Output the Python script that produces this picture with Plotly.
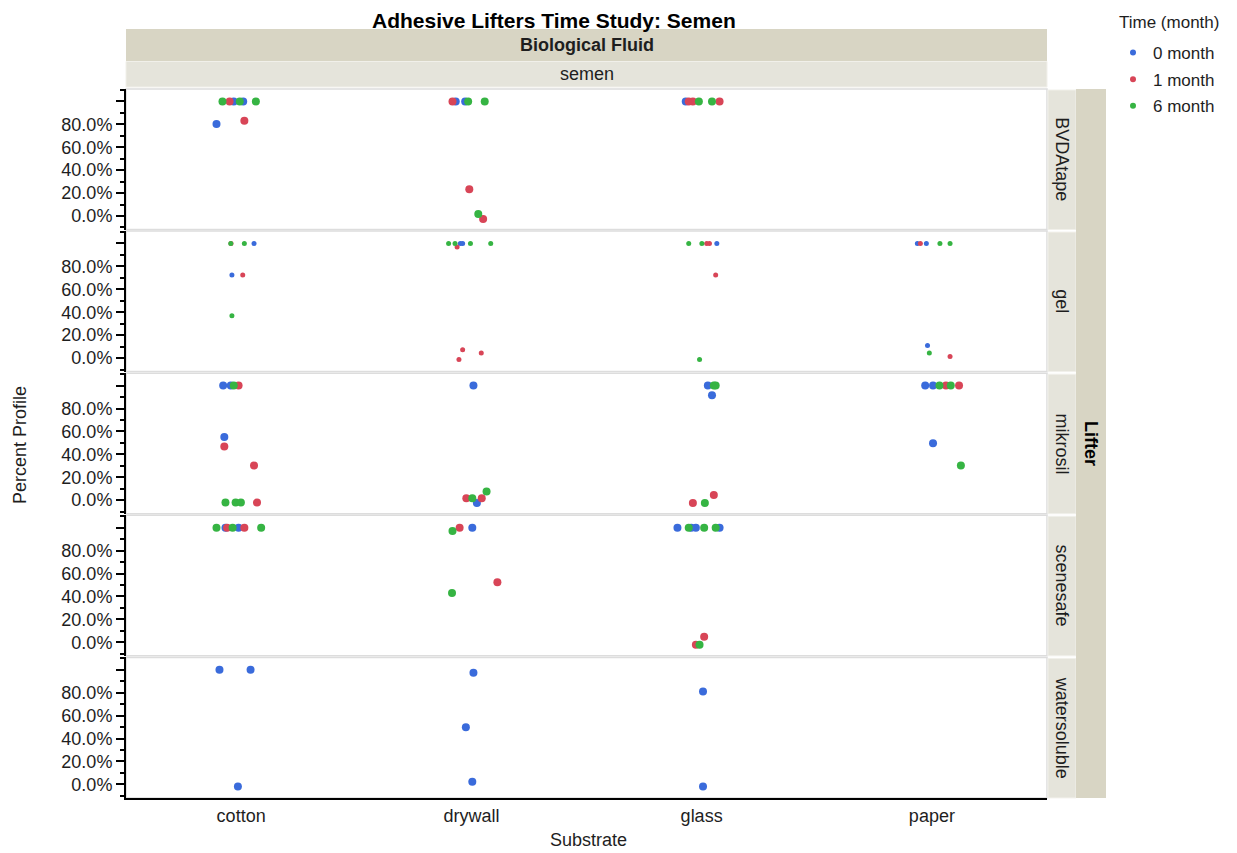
import plotly.graph_objects as go

# The page places the figure 8px in from the top-left corner, so the figure is
# sized 8px smaller and all reference pixel positions are shifted by 8px.
PAGE_W, PAGE_H = 1237, 853
OFF = 8
W, H = PAGE_W - OFF, PAGE_H - OFF

# ---------------- data ----------------
lifters = ["BVDAtape", "gel", "mikrosil", "scenesafe", "watersoluble"]
substrates = ["cotton", "drywall", "glass", "paper"]
months = [0, 1, 6]
month_labels = ["0 month", "1 month", "6 month"]
month_colors = ["#3A6BDB", "#D84557", "#36B443"]
y_tick_vals = [0, 0.2, 0.4, 0.6, 0.8, 1.0]
y_tick_text = ["0.0%", "20.0%", "40.0%", "60.0%", "80.0%", ""]

point_lifter = (["BVDAtape"] * 22 + ["gel"] * 32 + ["mikrosil"] * 32
                + ["scenesafe"] * 22 + ["watersoluble"] * 8)

point_substrate = (
    # BVDAtape
    ["cotton"] * 8 + ["drywall"] * 8 + ["glass"] * 6
    # gel
    + ["cotton"] * 7 + ["drywall"] * 10 + ["glass"] * 7 + ["paper"] * 8
    # mikrosil
    + ["cotton"] * 11 + ["drywall"] * 6 + ["glass"] * 7 + ["paper"] * 8
    # scenesafe
    + ["cotton"] * 7 + ["drywall"] * 5 + ["glass"] * 10
    # watersoluble
    + ["cotton"] * 3 + ["drywall"] * 3 + ["glass"] * 2
)

point_month = [
    # BVDAtape
    6, 1, 0, 6, 0, 6, 0, 1,
    1, 0, 0, 6, 6, 1, 6, 1,
    0, 1, 1, 6, 6, 1,
    # gel
    6, 1, 6, 0, 0, 1, 6,
    6, 6, 0, 0, 6, 6, 1, 1, 1, 1,
    6, 6, 1, 1, 0, 1, 6,
    0, 1, 0, 6, 6, 0, 6, 1,
    # mikrosil
    0, 0, 6, 1, 0, 1, 1, 6, 6, 6, 1,
    0, 1, 6, 1, 0, 6,
    0, 6, 6, 0, 1, 6, 1,
    0, 0, 6, 1, 6, 1, 0, 6,
    # scenesafe
    6, 0, 1, 6, 0, 1, 6,
    1, 0, 6, 1, 6,
    0, 6, 0, 0, 6, 6, 0, 1, 1, 6,
    # watersoluble
    0, 0, 0,
    0, 0, 0,
    0, 0,
]

point_jitter = [
    # BVDAtape
    -0.081, -0.050, -0.032, -0.006, 0.009, 0.064, -0.107, 0.014,
    -0.082, -0.068, -0.027, -0.014, 0.058, -0.009, 0.030, 0.051,
    -0.069, -0.056, -0.038, -0.012, 0.045, 0.078,
    # gel
    -0.045, -0.044, 0.014, 0.056, -0.040, 0.007, -0.040,
    -0.099, -0.071, -0.048, -0.038, -0.004, 0.084, -0.062, -0.038, 0.043, -0.054,
    -0.056, 0.001, 0.022, 0.034, 0.066, 0.061, -0.009,
    -0.063, -0.050, -0.024, 0.035, 0.079, -0.019, -0.011, 0.079,
    # mikrosil
    -0.078, -0.045, -0.032, -0.011, -0.073, -0.073, 0.056, -0.068, -0.024, -0.001, 0.069,
    0.009, -0.022, 0.004, 0.045, 0.024, 0.066,
    0.027, 0.053, 0.061, 0.045, -0.038, 0.014, 0.053,
    -0.029, 0.005, 0.033, 0.061, 0.082, 0.118, 0.005, 0.126,
    # scenesafe
    -0.107, -0.068, -0.061, -0.037, -0.011, 0.014, 0.087,
    -0.051, 0.004, -0.082, 0.113, -0.084,
    -0.105, -0.056, -0.045, -0.025, 0.011, 0.061, 0.078, 0.011, -0.025, -0.009,
    # watersoluble
    -0.094, 0.041, -0.014,
    0.009, -0.024, 0.004,
    0.006, 0.006,
]

point_percent = [
    # BVDAtape
    1.0, 1.0, 1.0, 1.0, 1.0, 1.0, 0.803, 0.832,
    1.0, 1.0, 1.0, 1.0, 1.0, 0.233, 0.017, -0.026,
    1.0, 1.0, 1.0, 1.0, 1.0, 1.0,
    # gel
    1.0, 1.0, 1.0, 1.0, 0.724, 0.724, 0.369,
    1.0, 1.0, 1.0, 1.0, 1.0, 1.0, 0.969, 0.072, 0.044, -0.012,
    1.0, 1.0, 1.0, 1.0, 1.0, 0.724, -0.012,
    1.0, 1.0, 1.0, 1.0, 1.0, 0.110, 0.044, 0.014,
    # mikrosil
    1.0, 1.0, 1.0, 1.0, 0.552, 0.468, 0.302, -0.021, -0.021, -0.021, -0.021,
    1.0, 0.017, 0.017, 0.017, -0.024, 0.075,
    1.0, 1.0, 1.0, 0.915, -0.024, -0.024, 0.046,
    1.0, 1.0, 1.0, 1.0, 1.0, 1.0, 0.497, 0.302,
    # scenesafe
    1.0, 1.0, 1.0, 1.0, 1.0, 1.0, 1.0,
    1.0, 1.0, 0.970, 0.523, 0.429,
    1.0, 1.0, 1.0, 1.0, 1.0, 1.0, 1.0, 0.049, -0.021, -0.021,
    # watersoluble
    1.0, 1.0, -0.018,
    0.973, 0.499, 0.022,
    0.810, -0.018,
]

# ---------------- layout geometry ----------------
FONT = "Liberation Sans, Arial, sans-serif"
TXT = "#1E1E1E"
STRIP_DARK = "#D8D5C4"
STRIP_LIGHT = "#E5E4DB"
X_LEFT, X_RIGHT = 126, 1047
ROW_TOP0, ROW_STEP, ROW_H = 89, 142.1, 140.5
Y_RANGE = [-0.118, 1.108]


def fx(px):
    return (px - OFF) / W


def fy(px):
    return 1 - (px - OFF) / H


fig = go.Figure()

row_tops = [ROW_TOP0 + i * ROW_STEP for i in range(len(lifters))]

for r, lif in enumerate(lifters):
    yname = "y" if r == 0 else f"y{r + 1}"
    size = 5 if lif == "gel" else 8
    for m, lab, col in zip(months, month_labels, month_colors):
        xs, ys = [], []
        for L, S, M, J, P in zip(point_lifter, point_substrate, point_month,
                                 point_jitter, point_percent):
            if L == lif and M == m:
                xs.append(substrates.index(S) + J)
                ys.append(P)
        if xs:
            fig.add_trace(go.Scatter(
                x=xs, y=ys, mode="markers", xaxis="x", yaxis=yname,
                marker=dict(size=size, color=col, line=dict(width=0)),
                showlegend=False, hoverinfo="skip"))

# legend-only traces
for lab, col in zip(month_labels, month_colors):
    fig.add_trace(go.Scatter(x=[None], y=[None], mode="markers", name=lab,
                             legendgroup=lab, xaxis="x", yaxis="y",
                             marker=dict(size=6, color=col)))

layout = dict(
    width=W, height=H,
    margin=dict(l=0, r=0, t=0, b=0),
    paper_bgcolor="white", plot_bgcolor="white",
    font=dict(family=FONT, size=18, color=TXT),
    showlegend=True,
    legend=dict(
        x=fx(1113), y=fy(35), xanchor="left", yanchor="top",
        font=dict(size=17, color=TXT), bgcolor="rgba(0,0,0,0)",
        itemsizing="trace", traceorder="grouped", tracegroupgap=1.5,
    ),
    xaxis=dict(
        domain=[fx(X_LEFT), fx(X_RIGHT)], range=[-0.5, 3.5], anchor=f"y{len(lifters)}",
        tickmode="array", tickvals=list(range(len(substrates))), ticktext=substrates,
        showline=True, linecolor="black", linewidth=2, ticks="",
        showgrid=False, zeroline=False, tickfont=dict(size=18, color=TXT),
    ),
)

shapes = []
annotations = []
for r, lif in enumerate(lifters):
    top = row_tops[r]
    bot = top + ROW_H
    key = "yaxis" if r == 0 else f"yaxis{r + 1}"
    layout[key] = dict(
        domain=[fy(bot), fy(top)], range=Y_RANGE, anchor="x",
        tickmode="array", tickvals=y_tick_vals, ticktext=y_tick_text,
        ticks="outside", ticklen=8, tickwidth=1.5, tickcolor="black",
        minor=dict(dtick=0.1, tick0=0, ticks="outside", ticklen=4,
                   tickwidth=1.5, tickcolor="black"),
        showline=True, linecolor="black", linewidth=2,
        showgrid=False, zeroline=False, tickfont=dict(size=18, color=TXT),
    )
    # panel frame (light)
    shapes.append(dict(type="rect", xref="paper", yref="paper", layer="below",
                       x0=fx(X_LEFT), x1=fx(X_RIGHT), y0=fy(bot), y1=fy(top),
                       line=dict(color="#DDDDDD", width=1.5), fillcolor="white"))
    # row label strip
    shapes.append(dict(type="rect", xref="paper", yref="paper", layer="below",
                       x0=fx(1048), x1=fx(1076), y0=fy(bot), y1=fy(top + 1),
                       line=dict(color="#F1F0EA", width=1), fillcolor=STRIP_LIGHT))
    annotations.append(dict(text=lif, x=fx(1062), y=fy(top + ROW_H / 2),
                            textangle=90, font=dict(size=18, color=TXT)))

# top strips
shapes.append(dict(type="rect", xref="paper", yref="paper", layer="below",
                   x0=fx(X_LEFT), x1=fx(X_RIGHT), y0=fy(61), y1=fy(29),
                   line=dict(width=0), fillcolor=STRIP_DARK))
shapes.append(dict(type="rect", xref="paper", yref="paper", layer="below",
                   x0=fx(X_LEFT), x1=fx(X_RIGHT), y0=fy(87), y1=fy(61.5),
                   line=dict(color="#F1F0EA", width=1), fillcolor=STRIP_LIGHT))
# Lifter strip
shapes.append(dict(type="rect", xref="paper", yref="paper", layer="below",
                   x0=fx(1076), x1=fx(1106), y0=fy(row_tops[-1] + ROW_H), y1=fy(ROW_TOP0),
                   line=dict(width=0), fillcolor=STRIP_DARK))

annotations += [
    dict(text="<b>Adhesive Lifters Time Study: Semen</b>", x=fx(554), y=fy(20.5),
         font=dict(size=21, color="black")),
    dict(text="<b>Biological Fluid</b>", x=fx(586.5), y=fy(45),
         font=dict(size=18, color=TXT)),
    dict(text="semen", x=fx(586.5), y=fy(74), font=dict(size=18, color=TXT)),
    dict(text="<b>Lifter</b>", x=fx(1091), y=fy(443), textangle=90,
         font=dict(size=18, color="black")),
    dict(text="Percent Profile", x=fx(20), y=fy(445), textangle=-90,
         font=dict(size=18, color=TXT)),
    dict(text="Substrate", x=fx(588), y=fy(840), font=dict(size=18, color=TXT)),
    dict(text="Time (month)", x=fx(1117), y=fy(22), xanchor="left",
         font=dict(size=17, color=TXT)),
]
for a in annotations:
    a.setdefault("xref", "paper")
    a.setdefault("yref", "paper")
    a.setdefault("showarrow", False)
    a.setdefault("xanchor", "center")
    a.setdefault("yanchor", "middle")

layout["shapes"] = shapes
layout["annotations"] = annotations
fig.update_layout(**layout)

fig.write_html("out.html")
